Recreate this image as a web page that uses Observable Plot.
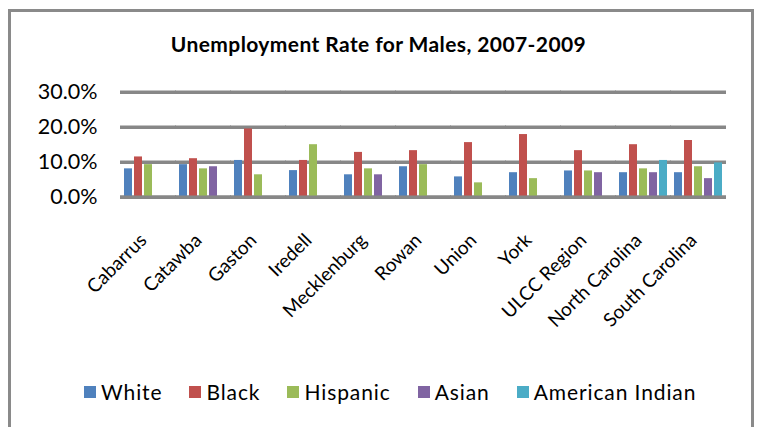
<!DOCTYPE html>
<html>
<head>
<meta charset="utf-8">
<script src="https://cdn.jsdelivr.net/npm/d3@7"></script>
<script src="https://cdn.jsdelivr.net/npm/@observablehq/plot@0.6"></script>
<style>
  html, body { margin: 0; padding: 0; background: #fff; }
  #wrap { position: relative; width: 757px; height: 427px; overflow: hidden; font-family: Lato, "Open Sans", sans-serif; }
  #frame { position: absolute; left: 8px; top: 9px; width: 746px; height: 440px; border: 3px solid #8a8a8a; box-sizing: border-box; }
  #title { position: absolute; top: 31px; left: 0; width: 757px; text-align: center; font-weight: bold; font-size: 21px; color: #000; letter-spacing: 0.4px; }
  #plot { position: absolute; left: 0; top: 0; }
  #legend { position: absolute; top: 379px; left: 84px; display: flex; align-items: center; font-size: 21px; letter-spacing: 0.9px; color: #000; }
  .item { display: flex; align-items: center; margin-right: 27px; }
  .sw { width: 12px; height: 12px; margin-right: 5px; }
</style>
</head>
<body>
<div id="wrap">
  <div id="frame"></div>
  <div id="title">Unemployment Rate for  Males, 2007-2009</div>
  <div id="plot"></div>
  <div id="legend"></div>
</div>
<script>
const categories = ["Cabarrus","Catawba","Gaston","Iredell","Mecklenburg","Rowan","Union","York","ULCC Region","North Carolina","South Carolina"];
const series = ["White","Black","Hispanic","Asian","American Indian"];
const colors = ["#4F81BD","#C0504D","#9BBB59","#8064A2","#4BACC6"];
const white    = [8.1, 9.3, 10.5, 7.6, 6.4, 8.7, 5.8, 7.0, 7.5, 7.0, 7.0];
const black    = [11.5, 11.0, 19.5, 10.5, 12.8, 13.3, 15.6, 17.9, 13.3, 15.0, 16.2];
const hispanic = [9.3, 8.1, 6.4, 15.0, 8.1, 9.3, 4.1, 5.3, 7.5, 8.1, 8.7];
const asian    = [null, 8.7, null, null, 6.4, null, null, null, 7.0, 7.0, 5.3];
const amIndian = [null, null, null, null, null, null, null, null, null, 10.5, 9.8];
const yTicks = [0, 10, 20, 30];

const valuesBySeries = [white, black, hispanic, asian, amIndian];
const data = [];
categories.forEach((c, i) => {
  series.forEach((s, k) => {
    const v = valuesBySeries[k][i];
    if (v != null) data.push({category: c, series: s, value: v});
  });
});

const chart = Plot.plot({
  width: 757,
  height: 370,
  marginLeft: 120,
  marginRight: 31,
  marginTop: 91.7,
  marginBottom: 173.3,
  style: {fontFamily: "Lato, 'Open Sans', sans-serif", fontSize: "18px", color: "#000", background: "transparent"},
  fx: {domain: categories, paddingInner: 0.09, paddingOuter: 0.05, label: null},
  x: {domain: series, paddingInner: 0.2, paddingOuter: 0.1, axis: null},
  y: {domain: [0, 30], label: null},
  color: {domain: series, range: colors},
  marks: [
    Plot.ruleY(yTicks, {stroke: "#878787", strokeWidth: 3.5, insetLeft: -3, insetRight: -3}),
    Plot.barY(data, {fx: "category", x: "series", y: "value", fill: "series"}),
    Plot.ruleY([0], {stroke: "#878787", strokeWidth: 3.5, insetLeft: -3, insetRight: -3}),
    Plot.axisY(yTicks, {tickSize: 0, tickPadding: 26, tickFormat: d => d.toFixed(1) + "%", label: null, fontSize: 21.5}),
    Plot.axisFx({anchor: "bottom", tickSize: 0, tickRotate: -45, tickPadding: 40, dx: -5, label: null, fontSize: 19})
  ]
});
document.getElementById("plot").appendChild(chart);

const legend = document.getElementById("legend");
series.forEach((s, k) => {
  const item = document.createElement("div");
  item.className = "item";
  const sw = document.createElement("div");
  sw.className = "sw";
  sw.style.background = colors[k];
  const t = document.createElement("span");
  t.textContent = s;
  item.appendChild(sw);
  item.appendChild(t);
  legend.appendChild(item);
});
</script>
</body>
</html>
